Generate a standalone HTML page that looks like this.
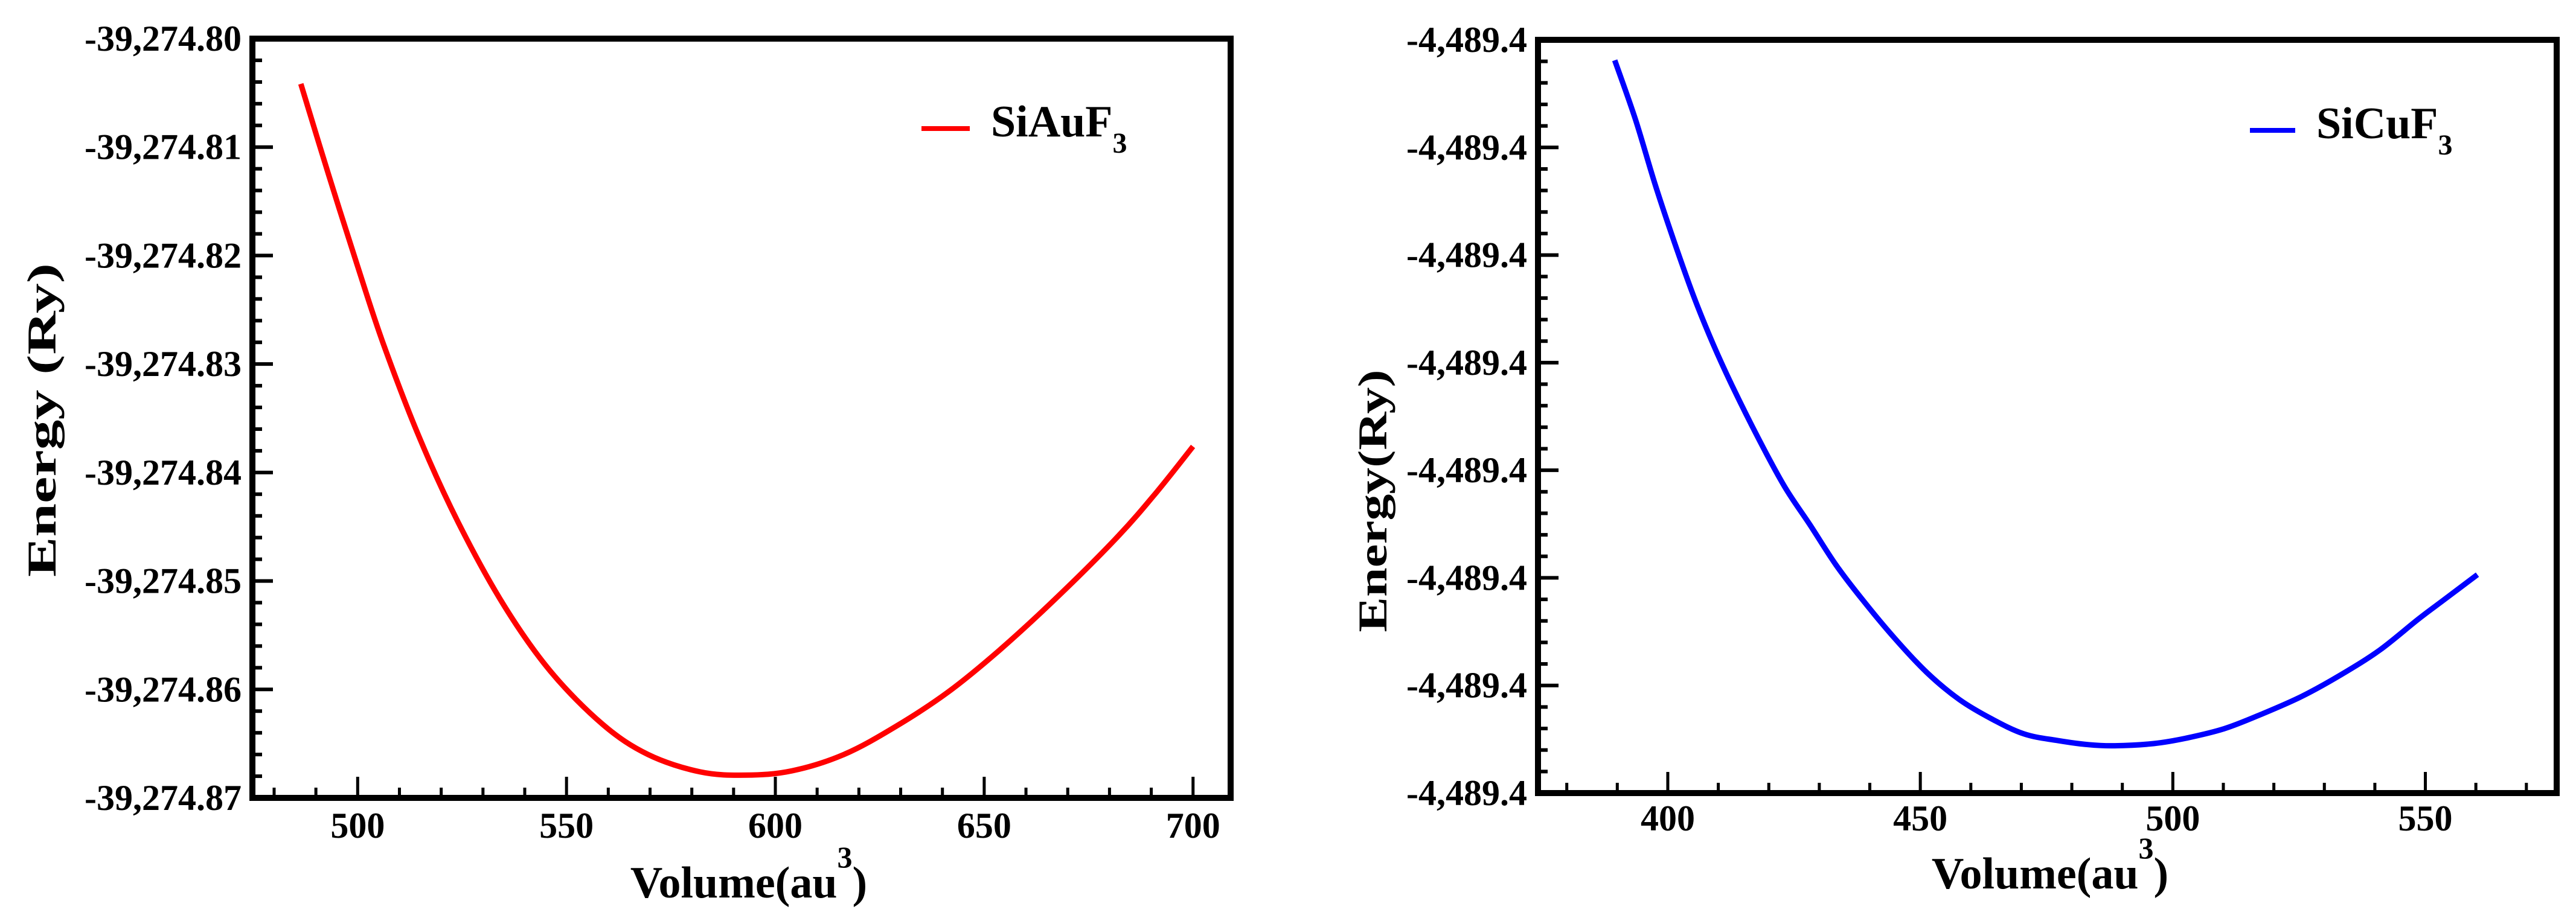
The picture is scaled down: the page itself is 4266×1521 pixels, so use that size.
<!DOCTYPE html>
<html><head><meta charset="utf-8">
<style>
html,body{margin:0;padding:0;background:#fff;}
svg{display:block;}
text{font-family:"Liberation Serif","Times New Roman",Times,"DejaVu Serif",serif;font-weight:bold;fill:#000;}
</style></head>
<body>
<svg id="chart" width="4266" height="1521" viewBox="0 0 4266 1521" xmlns="http://www.w3.org/2000/svg" font-family="Liberation Serif, Times New Roman, serif">
<rect width="4266" height="1521" fill="#fff"/>
<g id="left"></g>
<g id="right"></g>
</svg>
<script>
// ---- SiAuF3 data ----
const auVolume = [486.4,493.0,500.0,506.2,514.8,524.2,535.1,546.1,558.6,569.5,582.0,593.0,604.0,616.4,628.9,641.5,653.9,668.0,682.0,691.3,700.0];
const auEnergy = [-39274.80417,-39274.8125,-39274.8210,-39274.8282,-39274.8368,-39274.8447,-39274.8523,-39274.8583,-39274.8632,-39274.8660,-39274.8676,-39274.8679,-39274.8675,-39274.8660,-39274.8634,-39274.8602,-39274.8563,-39274.8513,-39274.8459,-39274.8418,-39274.8376];
const auXTicks = [500,550,600,650,700];
const auYTicks = [-39274.80,-39274.81,-39274.82,-39274.83,-39274.84,-39274.85,-39274.86,-39274.87];
const auYLabels = ["-39,274.80","-39,274.81","-39,274.82","-39,274.83","-39,274.84","-39,274.85","-39,274.86","-39,274.87"];
// ---- SiCuF3 data ----
const cuVolume = [389.5,393.6,397.4,401.3,405.1,409.0,412.8,417.9,423.1,428.2,433.3,438.5,444.9,451.3,457.7,464.1,470.5,476.9,483.3,488.5,496.2,502.6,510.3,517.9,525.6,533.3,541.0,548.7,553.8,560.3];
const cuEnergy = [-4489.38676,-4489.38896,-4489.39132,-4489.39352,-4489.39552,-4489.39732,-4489.39888,-4489.4008,-4489.4026,-4489.40404,-4489.40552,-4489.4068,-4489.40824,-4489.40952,-4489.41052,-4489.41124,-4489.4118,-4489.41204,-4489.4122,-4489.41224,-4489.41216,-4489.41196,-4489.4116,-4489.41104,-4489.4104,-4489.4096,-4489.40868,-4489.40752,-4489.4068,-4489.40588];
const cuXTicks = [400,450,500,550];
const cuYTicks = [-4489.386,-4489.390,-4489.394,-4489.398,-4489.402,-4489.406,-4489.410,-4489.414];
const cuYLabels = ["-4,489.4","-4,489.4","-4,489.4","-4,489.4","-4,489.4","-4,489.4","-4,489.4","-4,489.4"];

const NS="http://www.w3.org/2000/svg";
function mk(parent,tag,attrs,text){
  const e=document.createElementNS(NS,tag);
  for(const k in attrs) e.setAttribute(k,attrs[k]);
  if(text!==undefined) e.textContent=text;
  parent.appendChild(e); return e;
}
function smoothPath(pts){
  let d='M'+pts[0][0].toFixed(1)+' '+pts[0][1].toFixed(1);
  for(let i=0;i<pts.length-1;i++){
    const p0=pts[Math.max(0,i-1)],p1=pts[i],p2=pts[i+1],p3=pts[Math.min(pts.length-1,i+2)];
    const c1=[p1[0]+(p2[0]-p0[0])/6,p1[1]+(p2[1]-p0[1])/6];
    const c2=[p2[0]-(p3[0]-p1[0])/6,p2[1]-(p3[1]-p1[1])/6];
    d+=' C'+c1[0].toFixed(1)+' '+c1[1].toFixed(1)+' '+c2[0].toFixed(1)+' '+c2[1].toFixed(1)+' '+p2[0].toFixed(1)+' '+p2[1].toFixed(1);
  }
  return d;
}
function panel(g,cfg){
  const xs=v=>cfg.x0+(v-cfg.xmin)/(cfg.xmax-cfg.xmin)*(cfg.x1-cfg.x0);
  const ys=v=>cfg.y0+(cfg.ymax-v)/(cfg.ymax-cfg.ymin)*(cfg.y1-cfg.y0);
  for(let v=Math.ceil(cfg.xmin/10)*10; v<=cfg.xmax; v+=10){
    const major=cfg.xTicks.includes(v);
    const t=mk(g,'line',{x1:xs(v),x2:xs(v),y1:cfg.y1,y2:cfg.y1-(major?35:17),stroke:'#000','stroke-width':5});
    
    
  }
  cfg.xTicks.forEach(v=>{
    const t=mk(g,'text',{x:xs(v),y:cfg.xLabelY,'font-size':60,'text-anchor':'middle'},String(v));
    
    
  });
  const step=(cfg.yTicks[0]-cfg.yTicks[1])/5;
  for(let i=0;i<cfg.yTicks.length;i++){
    for(let j=0;j<5;j++){
      if(i===cfg.yTicks.length-1 && j>0) break;
      const v=cfg.yTicks[i]-j*step;
      const major=j===0;
      const t=mk(g,'line',{x1:cfg.x0,x2:cfg.x0+(major?34:16),y1:ys(v),y2:ys(v),stroke:'#000','stroke-width':6});
      
      
    }
    const l=mk(g,'text',{x:cfg.x0-18,y:ys(cfg.yTicks[i])+20,'font-size':60,'text-anchor':'end'},cfg.yLabels[i]);
    
    
  }
  const pts=cfg.vol.map((v,i)=>[xs(v),ys(cfg.en[i])]);
  const c=mk(g,'path',{d:smoothPath(pts),fill:'none',stroke:cfg.color,'stroke-width':9,'stroke-linejoin':'round'});
  
  
  const f=mk(g,'rect',{x:cfg.x0,y:cfg.y0,width:cfg.x1-cfg.x0,height:cfg.y1-cfg.y0,fill:'none',stroke:'#000','stroke-width':10});
  
  
  const ll=mk(g,'line',{x1:cfg.legX,x2:cfg.legX+cfg.legW,y1:cfg.legY,y2:cfg.legY,stroke:cfg.color,'stroke-width':8});
  
  
  const lt=mk(g,'text',{x:cfg.legX+cfg.legW+35,y:cfg.legY+13,'font-size':74});
  
  
  lt.appendChild(document.createTextNode(cfg.label));
  mk(lt,'tspan',{'font-size':48,dy:27},'3');
  const xt=mk(g,'text',{x:cfg.xTitleX,y:cfg.xTitleY,'font-size':74,'text-anchor':'middle'});
  
  
  xt.appendChild(document.createTextNode('Volume(au'));
  mk(xt,'tspan',{'font-size':50,dy:-50},'3');
  mk(xt,'tspan',{dy:50},')');
  const yt=mk(g,'text',{x:0,y:0,'font-size':68,'text-anchor':'middle',textLength:cfg.yTitleLen,lengthAdjust:'spacingAndGlyphs',transform:`translate(${cfg.yTitleX},${cfg.yTitleY}) rotate(-90)`},cfg.yTitle);
  
  
}
panel(document.getElementById('left'),{
  name:'siauf3',x0:418,x1:2038,y0:64,y1:1322,xmin:474.8,xmax:709,ymin:-39274.87,ymax:-39274.80,
  xTicks:auXTicks,yTicks:auYTicks,yLabels:auYLabels,vol:auVolume,en:auEnergy,color:'#ff0000',
  xLabelY:1388,legX:1526,legW:80,legY:213,label:'SiAuF',xTitleX:1240,xTitleY:1487,
  yTitleX:92,yTitleY:696,yTitle:'Energy (Ry)',yTitleLen:520
});
panel(document.getElementById('right'),{
  name:'sicuf3',x0:2547,x1:4234,y0:66,y1:1314,xmin:374.3,xmax:576,ymin:-4489.414,ymax:-4489.386,
  xTicks:cuXTicks,yTicks:cuYTicks,yLabels:cuYLabels,vol:cuVolume,en:cuEnergy,color:'#0000ff',
  xLabelY:1376,legX:3726,legW:75,legY:216,label:'SiCuF',xTitleX:3395,xTitleY:1472,
  yTitleX:2296,yTitleY:830,yTitle:'Energy(Ry)',yTitleLen:435
});
</script>
</body></html>
